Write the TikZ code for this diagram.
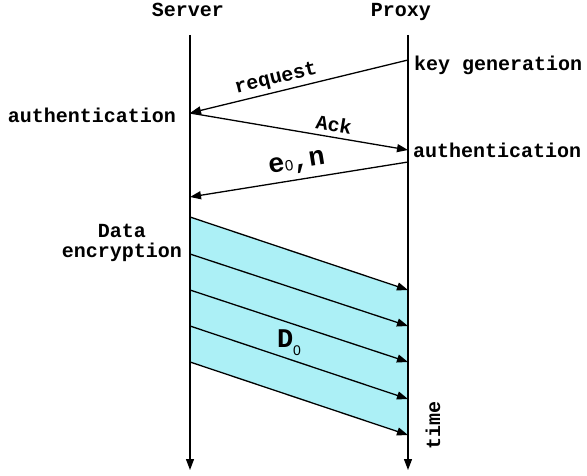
\documentclass[tikz,border=0pt]{standalone}
\usepackage{fontspec}
\setmainfont{Liberation Mono}
\newfontfamily\subfont{Liberation Sans}
\usetikzlibrary{arrows.meta}
\definecolor{datafill}{RGB}{172,240,246}
\begin{document}
\begin{tikzpicture}[x=1pt,y=-1pt,
  lbl/.style={font=\fontsize{20}{23}\selectfont\bfseries, inner sep=0pt},
  big/.style={font=\fontsize{27}{30}\selectfont\bfseries, inner sep=0pt},
  msg/.style={line width=1.3pt, -{Triangle[length=11pt,width=8pt]}},
  life/.style={line width=1.3pt, -{Triangle[length=11pt,width=8pt]}}]
\useasboundingbox (0,0) rectangle (587,476);
% lifelines
\coordinate (s0) at (190,35);  \coordinate (s1) at (190,470);
\coordinate (p0) at (408,35);  \coordinate (p1) at (408,470);
% data region
\coordinate (d0) at (190,217); \coordinate (e0) at (408,290);
\coordinate (d4) at (190,362); \coordinate (e4) at (408,435);
\fill[datafill] (d0) -- (e0) -- (e4) -- (d4) -- cycle;
\draw[life] (s0) -- (s1);
\draw[life] (p0) -- (p1);
% headers
\node[lbl, anchor=base] (server) at (188,17) {Server};
\node[lbl, anchor=base] (proxy) at (401,17) {Proxy};
% messages
\coordinate (pa) at (408,60);  \coordinate (sa) at (190,113);
\coordinate (pb) at (408,150);
\coordinate (pc) at (408,162); \coordinate (sb) at (190,197);
\draw[msg] (pa) -- (sa);
\draw[msg] (sa) -- (pb);
\draw[msg] (pc) -- (sb);
\node[lbl, rotate=13.7] (req) at (276,79) {request};
\node[lbl, rotate=-9.6] (ack) at (334,124) {Ack};
\node[big, rotate=9.1] (en) at (297,164) {e{\subfont\mdseries\fontsize{15}{15}\selectfont\raisebox{-1pt}{0}},n};
% side labels
\node[lbl, anchor=base west] (keygen) at (414,71) {key generation};
\node[lbl, anchor=base east] (authS) at (176,123) {authentication};
\node[lbl, anchor=base west] (authP) at (413,158) {authentication};
\node[lbl, align=center, anchor=base] (denc) at (122,258) {Data\\[-3pt]encryption};
% data arrows
\coordinate (d1) at (190,254); \coordinate (e1) at (408,326);
\coordinate (d2) at (190,290); \coordinate (e2) at (408,362);
\coordinate (d3) at (190,326); \coordinate (e3) at (408,399);
\draw[msg] (d0) -- (e0);
\draw[msg] (d1) -- (e1);
\draw[msg] (d2) -- (e2);
\draw[msg] (d3) -- (e3);
\draw[msg] (d4) -- (e4);
\node[big, anchor=base] (D) at (289,347) {D{\subfont\mdseries\fontsize{14}{14}\selectfont\raisebox{-8pt}{0}}};
\node[lbl, rotate=90] (time) at (433,425) {time};
\end{tikzpicture}
\end{document}
